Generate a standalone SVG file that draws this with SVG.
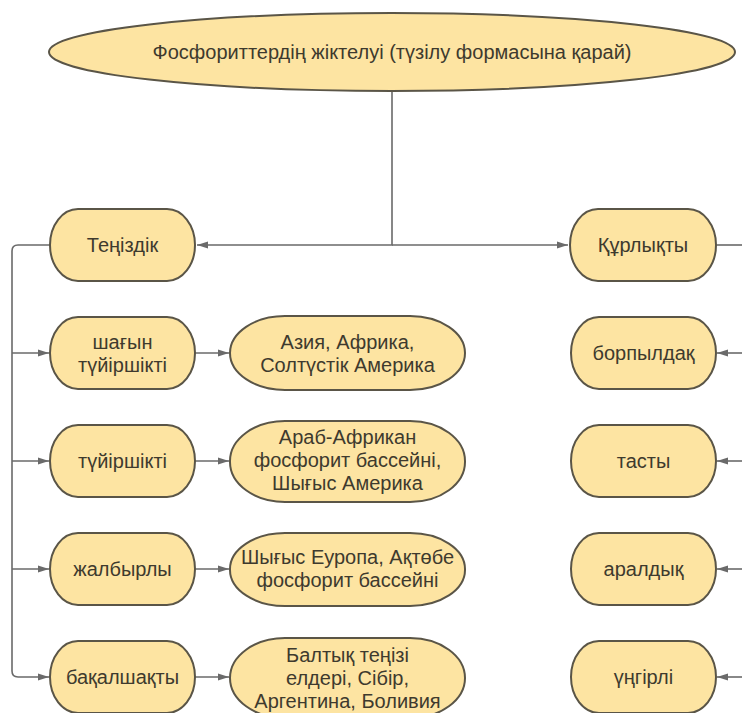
<svg xmlns="http://www.w3.org/2000/svg" width="742" height="713" viewBox="0 0 742 713">
<defs>
<marker id="arr" viewBox="0 0 11 8" refX="11" refY="4" markerWidth="11" markerHeight="8" markerUnits="userSpaceOnUse" orient="auto">
<path d="M0,0.5 L11,4 L0,7.5 Z" fill="#6a6a6a"/>
</marker>
<style>
.n{fill:#fde4a2;stroke:#5a5547;stroke-width:2}
.t{font-family:"Liberation Sans",Arial,sans-serif;font-size:20px;fill:#3e3a2e;text-anchor:middle;dominant-baseline:central}
.c{fill:none;stroke:#6a6a6a;stroke-width:1.6}
</style>
</defs>
<rect width="742" height="713" fill="#ffffff"/>
<g id="connectors">
<path class="c" d="M392,91 V245 H197" marker-end="url(#arr)"/>
<path class="c" d="M392,245 H568" marker-end="url(#arr)"/>
<path class="c" d="M50,245 H18 Q12,245 12,251 V671 Q12,677 18,677 H49" marker-end="url(#arr)"/>
<path class="c" d="M12,353 H49" marker-end="url(#arr)"/>
<path class="c" d="M12,461 H49" marker-end="url(#arr)"/>
<path class="c" d="M12,569 H49" marker-end="url(#arr)"/>
<path class="c" d="M195,353 H229" marker-end="url(#arr)"/>
<path class="c" d="M195,461 H229" marker-end="url(#arr)"/>
<path class="c" d="M195,569 H229" marker-end="url(#arr)"/>
<path class="c" d="M195,677 H229" marker-end="url(#arr)"/>
<path class="c" d="M716,245 H742"/>
<path class="c" d="M742,353 H717" marker-end="url(#arr)"/>
<path class="c" d="M742,461 H717" marker-end="url(#arr)"/>
<path class="c" d="M742,569 H717" marker-end="url(#arr)"/>
<path class="c" d="M742,677 H717" marker-end="url(#arr)"/>
</g>
<g id="root">
<ellipse class="n" cx="392" cy="52" rx="343" ry="39"/>
<text class="t" x="392" y="52">Фосфориттердің жіктелуі (түзілу формасына қарай)</text>
</g>
<g id="teniz">
<rect class="n" x="50" y="209" width="145" height="72" rx="28" ry="36"/>
<text class="t" x="122.5" y="245">Теңіздік</text>
</g>
<g id="shagyn">
<rect class="n" x="50" y="317" width="145" height="72" rx="28" ry="36"/>
<text class="t" x="122.5" y="342">шағын</text>
<text class="t" x="122.5" y="365">түйіршікті</text>
</g>
<g id="tuiir">
<rect class="n" x="50" y="425" width="145" height="72" rx="28" ry="36"/>
<text class="t" x="122.5" y="461">түйіршікті</text>
</g>
<g id="zhalb">
<rect class="n" x="50" y="533" width="145" height="72" rx="28" ry="36"/>
<text class="t" x="122.5" y="569">жалбырлы</text>
</g>
<g id="bakal">
<rect class="n" x="50" y="641" width="145" height="72" rx="28" ry="36"/>
<text class="t" x="122.5" y="677">бақалшақты</text>
</g>
<g id="asia">
<rect class="n" x="230" y="316" width="235" height="74" rx="55" ry="37"/>
<text class="t" x="347.5" y="342">Азия, Африка,</text>
<text class="t" x="347.5" y="365">Солтүстік Америка</text>
</g>
<g id="arab">
<rect class="n" x="230" y="421" width="235" height="81" rx="55" ry="40"/>
<text class="t" x="347.5" y="437">Араб-Африкан</text>
<text class="t" x="347.5" y="460">фосфорит бассейні,</text>
<text class="t" x="347.5" y="483">Шығыс Америка</text>
</g>
<g id="east">
<rect class="n" x="230" y="533" width="235" height="73" rx="55" ry="36"/>
<text class="t" x="347.5" y="557">Шығыс Еуропа, Ақтөбе</text>
<text class="t" x="347.5" y="580">фосфорит бассейні</text>
</g>
<g id="baltic">
<rect class="n" x="230" y="638" width="235" height="80" rx="55" ry="40"/>
<text class="t" x="347.5" y="655">Балтық теңізі</text>
<text class="t" x="347.5" y="678">елдері, Сібір,</text>
<text class="t" x="347.5" y="701">Аргентина, Боливия</text>
</g>
<g id="kurl">
<rect class="n" x="570" y="209" width="146" height="72" rx="28" ry="36"/>
<text class="t" x="643" y="245">Құрлықты</text>
</g>
<g id="borp">
<rect class="n" x="571" y="317" width="145" height="72" rx="28" ry="36"/>
<text class="t" x="643.5" y="353">борпылдақ</text>
</g>
<g id="tasty">
<rect class="n" x="571" y="425" width="145" height="72" rx="28" ry="36"/>
<text class="t" x="643.5" y="461">тасты</text>
</g>
<g id="aral">
<rect class="n" x="571" y="533" width="145" height="72" rx="28" ry="36"/>
<text class="t" x="643.5" y="569">аралдық</text>
</g>
<g id="ungir">
<rect class="n" x="571" y="641" width="145" height="72" rx="28" ry="36"/>
<text class="t" x="643.5" y="677">үңгірлі</text>
</g>
</svg>
